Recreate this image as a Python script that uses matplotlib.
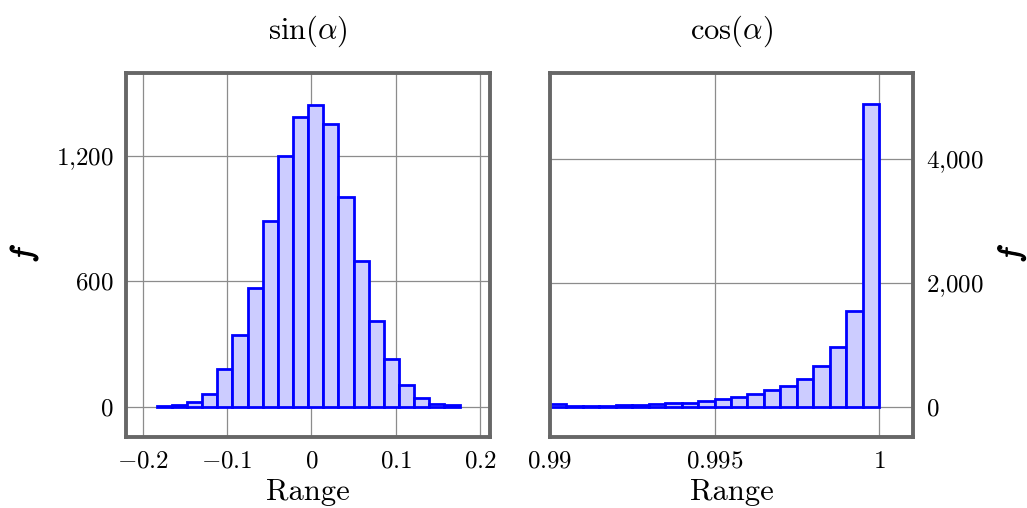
import numpy as np
import matplotlib
matplotlib.use("Agg")
import matplotlib.pyplot as plt
import matplotlib.patheffects as pe

plt.rcParams["mathtext.fontset"] = "cm"
plt.rcParams["font.family"] = ["cmr10", "DejaVu Serif"]
plt.rcParams["axes.formatter.use_mathtext"] = True

# Histogram of sin(alpha): 20 equal bins between the sample minimum and maximum
sin_range = (-0.1834, 0.1756)
sin_counts = [5, 10, 22, 61, 182, 344, 567, 889, 1197, 1384,
              1443, 1353, 1001, 698, 410, 230, 105, 40, 14, 8]
sin_xticks = [-0.2, -0.1, 0.0, 0.1, 0.2]
sin_xlabels = ["$-0.2$", "$-0.1$", "$0$", "$0.1$", "$0.2$"]
sin_yticks = [0, 600, 1200]
sin_ylabels = ["$0$", "$600$", "$1{,}200$"]

# Histogram of cos(alpha): 20 equal bins on [0.99, 1]
cos_range = (0.99, 1.0)
cos_counts = [45, 8, 8, 12, 22, 30, 35, 55, 65, 85,
              124, 150, 204, 269, 333, 452, 651, 957, 1543, 4887]
cos_xticks = [0.99, 0.995, 1.0]
cos_xlabels = ["$0.99$", "$0.995$", "$1$"]
cos_yticks = [0, 2000, 4000]
cos_ylabels = ["$0$", "$2{,}000$", "$4{,}000$"]

TICK_FS = 18
LABEL_FS = 22
FRAME = "#676767"
GRID = "#8c8c8c"
FILL = "#ccccff"
EDGE = "#0000ff"

fig = plt.figure(figsize=(10.27, 5.08), dpi=100)
ax1 = fig.add_axes([0.1227, 0.1398, 0.3544, 0.7165])
ax2 = fig.add_axes([0.5355, 0.1398, 0.3535, 0.7165])


def draw(ax, rng, counts, xt, xl, yt, yl, xlim, ylim, title, right, ylab_x):
    edges = np.linspace(rng[0], rng[1], len(counts) + 1)
    ax.bar(edges[:-1], counts, width=np.diff(edges), align="edge",
           color=FILL, edgecolor=EDGE, linewidth=2.0, zorder=3)
    ax.set_xlim(*xlim)
    ax.set_ylim(*ylim)
    ax.set_xticks(xt)
    ax.set_xticklabels(xl)
    ax.set_yticks(yt)
    ax.set_yticklabels(yl)
    ax.grid(True, color=GRID, linewidth=0.9, zorder=0)
    ax.set_axisbelow(True)
    for s in ax.spines.values():
        s.set_color(FRAME)
        s.set_linewidth(2.8)
        s.set_zorder(5)
    ax.tick_params(axis="both", length=0, labelsize=TICK_FS)
    ax.tick_params(axis="x", pad=10)
    ax.tick_params(axis="y", pad=9)
    if right:
        ax.yaxis.tick_right()
        ax.yaxis.set_label_position("right")
    ax.set_xlabel("Range", fontsize=LABEL_FS, labelpad=4)
    ylab = ax.set_ylabel("f", fontsize=LABEL_FS, family="cmmi10",
                         ha="center", va="center", rotation=90)
    ylab.set_path_effects([pe.withStroke(linewidth=0.9, foreground="black")])
    ax.yaxis.set_label_coords(ylab_x, 0.5)
    ax.set_title(title, fontsize=LABEL_FS, pad=25)


draw(ax1, sin_range, sin_counts, sin_xticks, sin_xlabels, sin_yticks, sin_ylabels,
     (-0.2198, 0.2117), (-145, 1595), r"$\sin(\alpha)$", False, -0.282)
draw(ax2, cos_range, cos_counts, cos_xticks, cos_xlabels, cos_yticks, cos_ylabels,
     (0.99, 1.00103), (-489, 5382), r"$\cos(\alpha)$", True, 1.27)

fig.savefig("out.png", dpi=100)
